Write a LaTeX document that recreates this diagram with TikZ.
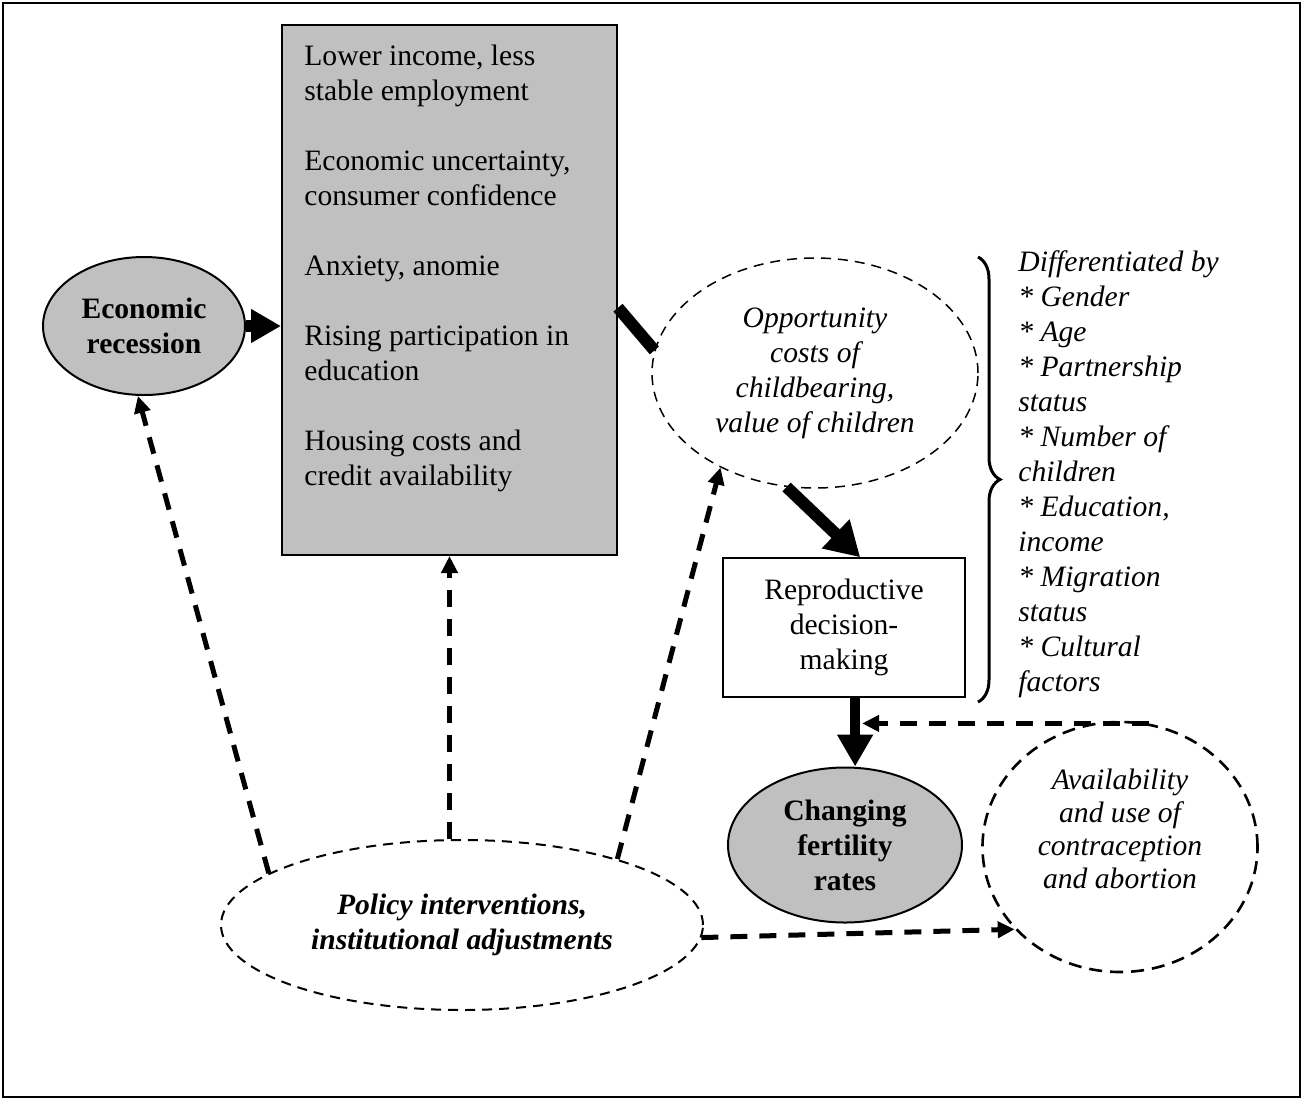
\documentclass[tikz,border=0pt]{standalone}
\usepackage{fontspec}
\setmainfont{Liberation Serif}
\usepackage{xcolor}
\usepackage{tikz}
\usetikzlibrary{shapes,arrows.meta,positioning,decorations.pathreplacing}
\definecolor{recgray}{RGB}{192,192,192}
\newcommand{\figfont}{\fontsize{14.8}{17.5}\selectfont}
\tikzset{
    every node/.style={font=\figfont}
}

\begin{document}
\begin{tikzpicture}[x=0.5pt,y=-0.5pt]
    % Define block styles
    \tikzstyle{factor} = [rectangle, draw, fill=recgray, line width=1pt,
        minimum width=167.5pt, minimum height=265pt]
    \tikzstyle{decision} = [rectangle, draw, line width=0.75pt, align=center,
        minimum width=121pt, minimum height=69.5pt]
    \tikzstyle{outcome} = [ellipse, draw, fill=recgray, line width=1pt, align=center,
        inner sep=0pt, font=\figfont\bfseries]
    \tikzstyle{context} = [ellipse, draw, dash pattern=on 5pt off 3.5pt, align=center,
        inner sep=0pt]
    \tikzstyle{bigarrow} = [line width=6pt, -{Triangle[length=15pt,width=16pt]}]
    \tikzstyle{policyarrow} = [line width=2.5pt, dash pattern=on 8.5pt off 6pt,
        -{Triangle[length=8.5pt,width=8pt]}]

    \useasboundingbox (0,0) rectangle (1303,1100);
    \draw[line width=1pt] (3,3) rectangle (1300,1097);

    % Place nodes
    \node[outcome, minimum width=101pt, minimum height=69pt] (recession) at (144,326) {Economic\\recession};
    \node[factor] (box) at (449.5,290) {};
    \node[anchor=west, align=left, inner sep=0pt] (boxtext) at (304,268)
        {Lower income, less\\stable employment\\[17.5pt]Economic uncertainty,\\consumer confidence\\[17.5pt]Anxiety, anomie\\[17.5pt]Rising participation in\\education\\[17.5pt]Housing costs and\\credit availability};
    \node[context, line width=0.75pt, minimum width=163pt, minimum height=115pt,
        font=\figfont\itshape] (opportunity) at (815,373) {Opportunity\\costs of\\childbearing,\\value of children};
    \node[decision] (repro) at (844,627.5) {Reproductive\\decision-\\making};
    \node[outcome, minimum width=117pt, minimum height=77.5pt] (fertility) at (845,845) {Changing\\fertility\\rates};
    \node[context, line width=1.3pt, dash pattern=on 6.5pt off 4pt,
        minimum width=137.5pt, minimum height=125pt] (contra) at (1120,847) {};
    \node[align=center, font=\fontsize{14.8}{16.5}\selectfont\itshape] (contratext) at (1120,829)
        {Availability\\and use of\\contraception\\and abortion};
    \node[context, line width=1pt, minimum width=241pt, minimum height=85pt,
        font=\figfont\bfseries\itshape] (policy) at (462,925) {Policy interventions,\\institutional adjustments};
    \node[anchor=west, align=left, inner sep=0pt, font=\figfont\itshape] (groups) at (1018,474)
        {Differentiated by\\* Gender\\* Age\\* Partnership\\status\\* Number of\\children\\* Education,\\income\\* Migration\\status\\* Cultural\\factors};

    % Brace
    \coordinate (bracetop) at (978,257);
    \coordinate (bracebottom) at (978,702);
    \draw[decorate, decoration={brace, amplitude=11pt}, line width=1.5pt] (bracetop) -- (bracebottom);

    % Connect nodes
    \coordinate (reprobottom) at (repro.-81);
    \coordinate (contratop) at (contra.77);
    \draw[bigarrow] (recession.east) -- (box.west |- recession.east);
    \draw[line width=6pt] (box.-6.8) -- (opportunity.172.4);
    \draw[bigarrow, -{Triangle[length=17pt,width=19pt]}] (opportunity.256) -- (repro.77);
    \draw[bigarrow, line width=5pt, -{Triangle[length=16pt,width=17pt]}] (reprobottom) -- (reprobottom |- fertility.north);
    \draw[policyarrow, shorten >=3.5pt] (contratop) -- (contratop -| reprobottom);
    \draw[policyarrow] (policy.165) -- (recession.265);
    \draw[policyarrow] (box.south |- policy.north) -- (box.south);
    \draw[policyarrow] (policy.23.6) -- (opportunity.225.3);
    \draw[policyarrow] (policy.-3.4) -- (contra.218.3);
\end{tikzpicture}
\end{document}
